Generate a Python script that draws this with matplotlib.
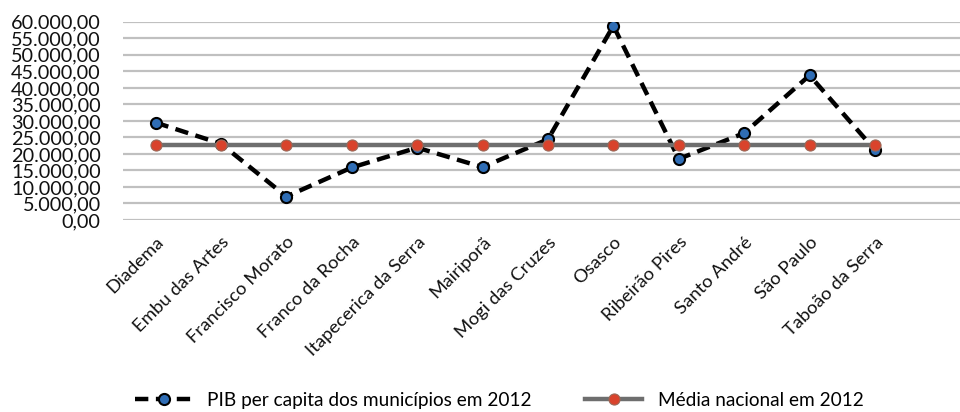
import matplotlib
matplotlib.use("Agg")
import matplotlib.pyplot as plt
import numpy as np
from matplotlib.ticker import FuncFormatter, MultipleLocator

plt.rcParams["font.family"] = ["Lato", "DejaVu Sans"]

municipios = [
    "Diadema", "Embu das Artes", "Francisco Morato", "Franco da Rocha",
    "Itapecerica da Serra", "Mairiporã", "Mogi das Cruzes", "Osasco",
    "Ribeirão Pires", "Santo André", "São Paulo", "Taboão da Serra",
]
pib_per_capita = [29500, 23100, 7100, 15900, 21900, 16000,
                  24450, 58800, 18500, 26300, 43800, 21200]
media_nacional = 22643


def br_fmt(v, _pos):
    # 12345.6 -> "12.345,60"
    s = f"{v:,.2f}"
    return s.replace(",", "X").replace(".", ",").replace("X", ".")


fig = plt.figure(figsize=(9.6, 4.12), dpi=100)
ax = fig.add_axes([0.128, 0.466, 0.872, 0.481])

x = np.arange(len(municipios))
ax.plot(x, pib_per_capita, color="black", lw=3.2, dashes=(3.0, 1.7),
        marker="o", ms=8, mfc="#2f6db5", mec="black", mew=1.5,
        label="PIB per capita dos municípios em 2012", zorder=3)
ax.plot(x, [media_nacional] * len(x), color="#6e6e6e", lw=3.2,
        marker="o", ms=8, mfc="#d9432c", mec="#9a6a5a", mew=0.8,
        label="Média nacional em 2012", zorder=4)

ax.set_ylim(0, 60000)
ax.set_xlim(-0.5, 12.3)
ax.yaxis.set_major_locator(MultipleLocator(5000))
ax.yaxis.set_major_formatter(FuncFormatter(br_fmt))
ax.grid(axis="y", color="#c0c0c0", lw=1.6)
ax.set_axisbelow(True)
for s in ax.spines.values():
    s.set_visible(False)
ax.tick_params(axis="both", length=0)
ax.tick_params(axis="y", labelsize=14.3, pad=16, labelcolor="#111111")
ax.set_xticks(x)
ax.set_xticklabels(municipios, rotation=45, ha="right",
                   rotation_mode="anchor", fontsize=13.3, color="#111111")
ax.tick_params(axis="x", pad=10)

fig.legend(loc="center", bbox_to_anchor=(0.52, 0.028), ncol=2,
           frameon=False, fontsize=13.7, handlelength=3.0,
           handletextpad=0.8, columnspacing=2.8)

fig.savefig("out.png", dpi=100)
